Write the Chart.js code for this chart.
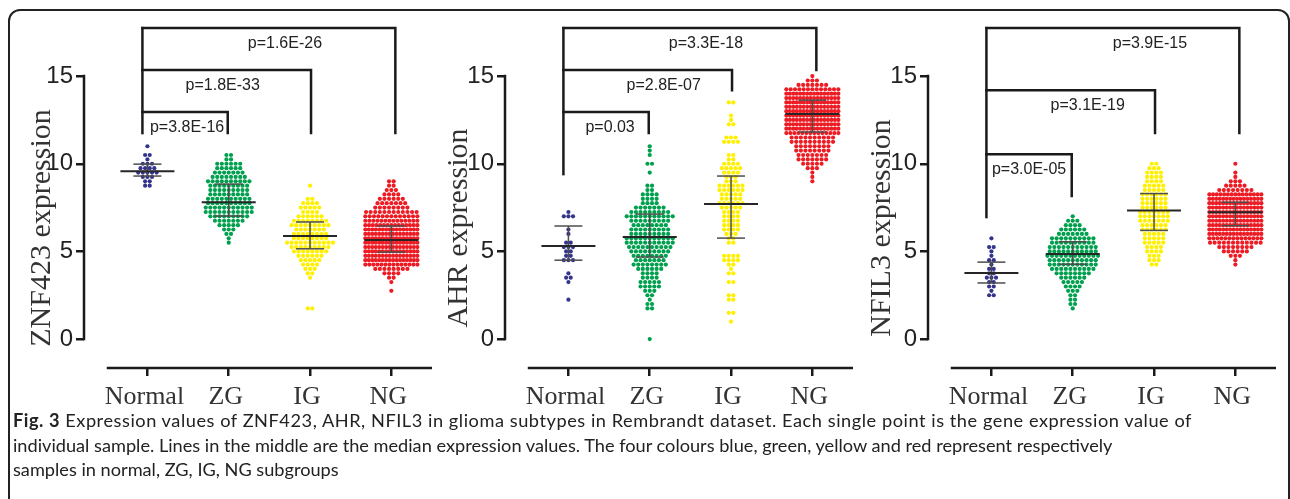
<!DOCTYPE html>
<html lang="en">
<head>
<meta charset="UTF-8">
<title>Fig. 3 – ZNF423, AHR, NFIL3 expression</title>
<script src="https://cdn.jsdelivr.net/npm/chart.js"></script>
<style>
  html, body { margin: 0; padding: 0; background: #fff; }
  body { width: 1290px; height: 499px; position: relative; overflow: hidden; }
  .frame { position: absolute; left: 8px; top: 9px; width: 1282px; height: 600px; border: 2px solid #222; border-radius: 12px; box-sizing: border-box; }
  .panel { position: absolute; top: 0; }
  .caption { position: absolute; left: 13px; top: 408px; font-family: Lato, "Noto Sans", sans-serif; font-size: 17.5px; line-height: 24.5px; color: #222; white-space: nowrap; }
  .caption span { display: inline-block; }
  .caption b { font-weight: 700; }
</style>
</head>
<body>
  <div class="frame"></div>
  <canvas id="znf" class="panel" width="440" height="410" style="left:0px"></canvas>
  <canvas id="ahr" class="panel" width="440" height="410" style="left:421px"></canvas>
  <canvas id="nfil" class="panel" width="440" height="410" style="left:844px"></canvas>
  <div class="caption">
    <div><span id="cap1"><b>Fig. 3</b> Expression values of ZNF423, AHR, NFIL3 in glioma subtypes in Rembrandt dataset. Each single point is the gene expression value of</span></div>
    <div><span id="cap2">individual sample. Lines in the middle are the median expression values. The four colours blue, green, yellow and red represent respectively</span></div>
    <div><span id="cap3">samples in normal, ZG, IG, NG subgroups</span></div>
  </div>

<script>
const categories = ['Normal', 'ZG', 'IG', 'NG'];
const yTicks = [0, 5, 10, 15];
const xTicks = [1, 2, 3, 4];
const groupColors = ['#34348c', '#00a04e', '#fff000', '#ed1c24'];
const binStep = 0.25;

// dots per row (rows are binStep apart, first row at the start value)
const znfStart = [8.75, 5.5, 1.75, 2.75];
const znfNormal = [2,2,3,5,4,3,1,2,0,1];
const znfZG = [1,1,2,3,5,7,9,11,11,10,10,9,9,9,10,8,7,6,6,2,2];
const znfIG = [2,0,0,0,0,0,0,1,2,3,4,5,6,8,9,11,8,8,7,9,8,6,4,5,4,2,0,0,1];
const znfNG = [1,0,1,2,4,8,14,16,16,16,16,16,16,16,16,15,14,13,12,8,7,6,4,3,2,2];
const znfMedian = [9.58, 7.8, 5.88, 5.65];
const znfUpper = [9.98, 8.84, 6.68, 6.45];
const znfLower = [9.3, 7.02, 5.15, 4.96];
const znfBracketLevel = [12.95, 15.35, 17.74];
const znfBracketDrop = [11.75, 11.75, 11.75];
const znfLeftDrop = 11.75;
const znfP = ['p=3.8E-16', 'p=1.8E-33', 'p=1.6E-26'];

const ahrStart = [2.25, 0, 1.0, 9.0];
const ahrNormal = [1,0,0,0,1,2,1,0,0,3,2,2,3,2,0,1,1,0,0,3,1];
const ahrZG = [1,0,0,0,0,0,0,2,2,1,2,3,5,5,4,4,6,8,7,8,9,10,11,11,9,9,8,9,11,9,7,4,4,4,2,2,0,0,1,0,2,0,1,1,1];
const ahrIG = [1,0,2,0,0,2,2,0,0,2,0,2,1,2,4,4,0,0,2,2,3,4,4,4,4,4,5,6,5,5,6,6,3,3,4,5,4,2,2,0,0,4,3,0,0,2,1,1,0,0,2];
const ahrNG = [1,1,1,3,5,7,7,8,8,10,10,14,16,16,16,16,16,16,16,16,16,13,7,3,1];
const ahrMedian = [5.31, 5.82, 7.7, 12.84];
const ahrUpper = [6.45, 7.13, 9.3, 13.63];
const ahrLower = [4.5, 4.68, 5.76, 11.81];
const ahrBracketLevel = [12.95, 15.35, 17.74];
const ahrBracketDrop = [11.75, 14.2, 15.35];
const ahrLeftDrop = 9.41;
const ahrP = ['p=0.03', 'p=2.8E-07', 'p=3.3E-18'];

const nfilStart = [2.5, 1.75, 4.25, 4.25];
const nfilNormal = [2,1,2,2,3,2,2,1,2,1,1,2,0,1];
const nfilZG = [1,2,2,2,3,4,5,6,8,10,11,11,12,11,11,10,10,7,6,4,3,1];
const nfilIG = [2,3,3,4,4,5,5,5,6,6,7,7,7,6,6,6,6,5,5,4,4,4,3,2];
const nfilNG = [1,1,3,6,8,12,14,16,16,16,16,16,16,16,16,16,15,8,5,3,1,1,0,1];
const nfilMedian = [3.77, 4.85, 7.34, 7.24];
const nfilUpper = [4.39, 5.55, 8.3, 7.8];
const nfilLower = [3.2, 4.27, 6.2, 6.47];
const nfilBracketLevel = [10.55, 14.2, 17.74];
const nfilBracketDrop = [8.16, 11.75, 11.75];
const nfilLeftDrop = 6.96;
const nfilP = ['p=3.0E-05', 'p=3.1E-19', 'p=3.9E-15'];

const PX_PER_UNIT = 81.3;   // x scale: 348px over 4.28 units
const DOT_GAP = 4.6;
const ROW_MAX = 52;

// lay each row of dots side by side around its category
function swarm(start, counts, cat) {
  const pts = [];
  counts.forEach((n, i) => {
    const gap = n > 1 ? Math.min(DOT_GAP, ROW_MAX / (n - 1)) : 0;
    for (let k = 0; k < n; k++) {
      pts.push({ x: cat + (k - (n - 1) / 2) * gap / PX_PER_UNIT, y: start + i * binStep });
    }
  });
  return pts;
}

function seg(ctx, x1, y1, x2, y2) {
  ctx.beginPath(); ctx.moveTo(x1, y1); ctx.lineTo(x2, y2); ctx.stroke();
}

function makePrism(pn) {
  return {
    id: 'prism',
    afterDatasetsDraw(chart) {
      const { ctx, scales: { x, y } } = chart;
      ctx.save();
      categories.forEach((c, i) => {
        const cx = x.getPixelForValue(i + 1);
        const yl = y.getPixelForValue(pn.lower[i]);
        const yu = y.getPixelForValue(pn.upper[i]);
        const ym = y.getPixelForValue(pn.median[i]);
        ctx.strokeStyle = '#4d4d4d'; ctx.lineWidth = 1.5;
        seg(ctx, cx, yl, cx, yu);
        seg(ctx, cx - 14, yl, cx + 14, yl);
        seg(ctx, cx - 14, yu, cx + 14, yu);
        ctx.strokeStyle = '#262626'; ctx.lineWidth = 2;
        seg(ctx, cx - 27, ym, cx + 27, ym);
      });
      ctx.restore();
    },
    afterDraw(chart) {
      const { ctx, chartArea: area, scales: { x, y } } = chart;
      ctx.save();
      ctx.strokeStyle = '#1a1a1a'; ctx.lineWidth = 2.5;
      seg(ctx, area.left, y.getPixelForValue(0) + 1.25, area.left, y.getPixelForValue(15) - 1.25);
      seg(ctx, x.getPixelForValue(0.5), area.bottom, area.right, area.bottom);

      // significance brackets
      ctx.lineCap = 'square'; ctx.lineJoin = 'miter';
      const x0 = x.getPixelForValue(1) - 5;
      seg(ctx, x0, y.getPixelForValue(pn.leftDrop), x0, y.getPixelForValue(Math.max(...pn.levels)));
      ctx.font = '16px "Liberation Sans", Arial, sans-serif';
      ctx.fillStyle = '#222'; ctx.textAlign = 'center'; ctx.textBaseline = 'middle';
      pn.levels.forEach((lv, j) => {
        const yl = y.getPixelForValue(lv);
        const x1 = x.getPixelForValue(j + 2) + pn.endShift[j];
        ctx.beginPath();
        ctx.moveTo(x0, yl); ctx.lineTo(x1, yl); ctx.lineTo(x1, y.getPixelForValue(pn.drops[j]));
        ctx.stroke();
        ctx.fillText(pn.pvals[j], (x0 + x1) / 2 + pn.pShift[j], yl + 15.5);
      });

      // axis title and category names
      ctx.fillStyle = '#333';
      ctx.save();
      ctx.translate(area.left - pn.titleGap, 228);
      ctx.rotate(-Math.PI / 2);
      ctx.font = '30px "Liberation Serif", "DejaVu Serif", serif';
      ctx.fillText(pn.title, 0, 0);
      ctx.restore();

      ctx.font = '26px "Liberation Serif", "DejaVu Serif", serif';
      ctx.textBaseline = 'alphabetic';
      categories.forEach((c, i) => {
        ctx.fillText(c, x.getPixelForValue(i + 1) - 3, 404);
      });
      ctx.restore();
    }
  };
}

const panels = [
  { id: 'znf', title: 'ZNF423 expression', starts: znfStart, bins: [znfNormal, znfZG, znfIG, znfNG],
    median: znfMedian, upper: znfUpper, lower: znfLower,
    levels: znfBracketLevel, drops: znfBracketDrop, leftDrop: znfLeftDrop, pvals: znfP,
    titleGap: 42, pShift: [2, -4, 16], endShift: [-1, 1, 4] },
  { id: 'ahr', title: 'AHR expression', starts: ahrStart, bins: [ahrNormal, ahrZG, ahrIG, ahrNG],
    median: ahrMedian, upper: ahrUpper, lower: ahrLower,
    levels: ahrBracketLevel, drops: ahrBracketDrop, leftDrop: ahrLeftDrop, pvals: ahrP,
    titleGap: 46, pShift: [4, 16, 16], endShift: [-1, 1, 4] },
  { id: 'nfil', title: 'NFIL3 expression', starts: nfilStart, bins: [nfilNormal, nfilZG, nfilIG, nfilNG],
    median: nfilMedian, upper: nfilUpper, lower: nfilLower,
    levels: nfilBracketLevel, drops: nfilBracketDrop, leftDrop: nfilLeftDrop, pvals: nfilP,
    titleGap: 46, pShift: [0, 17, 37], endShift: [-1, 1, 4] }
];

panels.forEach(pn => {
  new Chart(document.getElementById(pn.id), {
    type: 'scatter',
    data: {
      datasets: pn.bins.map((counts, g) => ({
        label: categories[g],
        data: swarm(pn.starts[g], counts, g + 1),
        backgroundColor: groupColors[g],
        borderWidth: 0,
        pointRadius: 2.1
      }))
    },
    options: {
      responsive: false,
      animation: false,
      events: [],
      layout: { padding: { top: 6, right: 8, left: 0, bottom: 0 } },
      plugins: { legend: { display: false }, tooltip: { enabled: false } },
      scales: {
        x: {
          type: 'linear', min: 0.22, max: 4.5,
          afterBuildTicks: axis => { axis.ticks = xTicks.map(v => ({ value: v })); },
          afterFit: axis => { axis.height = 42; axis.paddingLeft = 0; axis.paddingRight = 0; },
          grid: { drawOnChartArea: false, drawTicks: true, tickLength: 8, color: '#1a1a1a', lineWidth: 2.5 },
          border: { display: false },
          ticks: { display: false }
        },
        y: {
          min: -1.65, max: 19,
          afterBuildTicks: axis => { axis.ticks = yTicks.map(v => ({ value: v })); },
          afterFit: axis => { axis.width = 84; axis.paddingTop = 0; axis.paddingBottom = 0; },
          grid: { drawOnChartArea: false, drawTicks: true, tickLength: 8, color: '#1a1a1a', lineWidth: 2.5 },
          border: { display: false },
          ticks: {
            padding: 3, color: '#222',
            font: { family: '"Liberation Sans Narrow", "Arial Narrow", "Liberation Sans", sans-serif', size: 24 }
          }
        }
      }
    },
    plugins: [makePrism(pn)]
  });
});

// fit the caption lines to the widths they have in the figure
const cap1 = document.getElementById('cap1');
const cap2 = document.getElementById('cap2');
const caption = document.querySelector('.caption');
const baseSize = 17.5;
const size = baseSize * 1100 / cap2.getBoundingClientRect().width;
caption.style.fontSize = size.toFixed(2) + 'px';
const extra = 1179 - cap1.getBoundingClientRect().width;
cap1.style.letterSpacing = (extra / cap1.textContent.length).toFixed(3) + 'px';
</script>
</body>
</html>
